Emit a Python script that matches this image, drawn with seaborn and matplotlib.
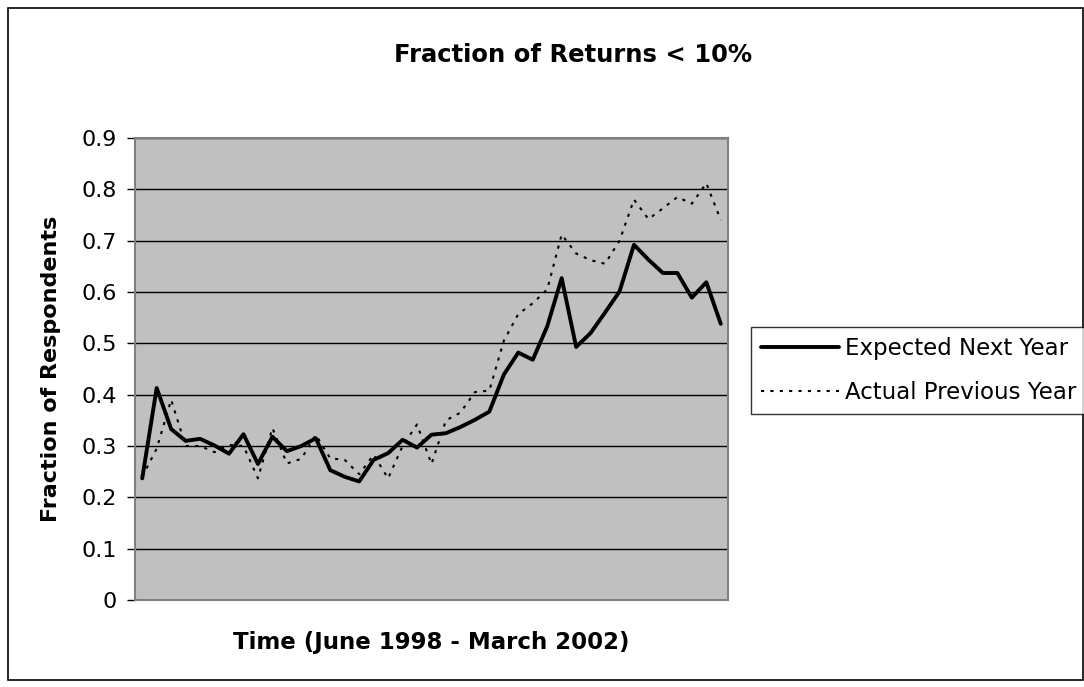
import numpy as np
import pandas as pd
import matplotlib
matplotlib.use('Agg')
import matplotlib.pyplot as plt
from matplotlib.patches import Rectangle
import seaborn as sns

# values (41 periods, June 1998 - March 2002)
expected_next_year = [0.237, 0.413, 0.333, 0.310, 0.314, 0.301, 0.285, 0.323, 0.265, 0.318,
                      0.290, 0.300, 0.315, 0.253, 0.240, 0.231, 0.273, 0.286, 0.312, 0.297,
                      0.322, 0.325, 0.337, 0.351, 0.367, 0.439, 0.482, 0.468, 0.533, 0.627,
                      0.493, 0.520, 0.560, 0.601, 0.692, 0.663, 0.637, 0.637, 0.589, 0.619,
                      0.538]
actual_previous_year = [0.240, 0.295, 0.390, 0.300, 0.300, 0.288, 0.302, 0.300, 0.237, 0.335,
                        0.266, 0.275, 0.322, 0.276, 0.273, 0.245, 0.283, 0.237, 0.300, 0.342,
                        0.265, 0.350, 0.365, 0.405, 0.408, 0.505, 0.557, 0.578, 0.605, 0.712,
                        0.675, 0.662, 0.655, 0.700, 0.780, 0.742, 0.763, 0.785, 0.772, 0.812,
                        0.740]
y_ticks = [0, 0.1, 0.2, 0.3, 0.4, 0.5, 0.6, 0.7, 0.8, 0.9]
y_tick_labels = ['0', '0.1', '0.2', '0.3', '0.4', '0.5', '0.6', '0.7', '0.8', '0.9']

period = np.arange(1, len(expected_next_year) + 1)
df = pd.DataFrame({'period': period,
                   'Expected Next Year': expected_next_year,
                   'Actual Previous Year': actual_previous_year})

sns.set_style('white')
plt.rcParams['font.family'] = ['DejaVu Sans']
plt.rcParams['text.color'] = 'black'
plt.rcParams['axes.labelcolor'] = 'black'
plt.rcParams['ytick.color'] = 'black'

fig = plt.figure(figsize=(10.84, 6.87), dpi=100)
ax = fig.add_axes([135 / 1084, 1 - 600 / 687, 593 / 1084, 462 / 687])
ax.set_facecolor('#c0c0c0')

sns.lineplot(data=df, x='period', y='Expected Next Year', ax=ax, color='black',
             linewidth=2.8, label='Expected Next Year')
sns.lineplot(data=df, x='period', y='Actual Previous Year', ax=ax, color='black',
             linewidth=1.5, linestyle=(0, (1.5, 3.0)), label='Actual Previous Year')

ax.set_xlim(0.5, len(period) + 0.5)
ax.set_ylim(0, 0.9)
ax.set_yticks(y_ticks)
ax.set_yticklabels(y_tick_labels, fontsize=16)
ax.set_xticks([])
ax.yaxis.grid(True, color='black', linewidth=1)
ax.set_axisbelow(True)
ax.tick_params(axis='y', which='both', left=True, length=6, width=1, color='black', pad=7)
for s in ax.spines.values():
    s.set_color('#808080')
    s.set_linewidth(1.5)

ax.set_xlabel('Time (June 1998 - March 2002)', fontsize=16.5, fontweight='bold', labelpad=22)
ax.set_ylabel('Fraction of Respondents', fontsize=16, fontweight='bold')
ax.yaxis.set_label_coords((61 - 135) / 593, 0.5)
fig.text(573 / 1084, 1 - 55 / 687, 'Fraction of Returns < 10%', fontsize=17.5,
         fontweight='bold', ha='center', va='center')

ax.get_legend().remove()
handles, labels = ax.get_legend_handles_labels()
leg = fig.legend(handles, labels, loc='upper left', bbox_to_anchor=(751 / 1084, 1 - 327 / 687),
                 frameon=True, fancybox=False, fontsize=16.5, handlelength=3.4,
                 handletextpad=0.25, borderpad=0.45, labelspacing=0.9, borderaxespad=0)
leg.get_frame().set_edgecolor('black')
leg.get_frame().set_linewidth(1)

fig.patches.append(Rectangle((8 / 1084, 7 / 687), 1075 / 1084, 672 / 687, fill=False,
                             edgecolor='black', linewidth=1.2, transform=fig.transFigure))

fig.savefig('out.png', dpi=100)
